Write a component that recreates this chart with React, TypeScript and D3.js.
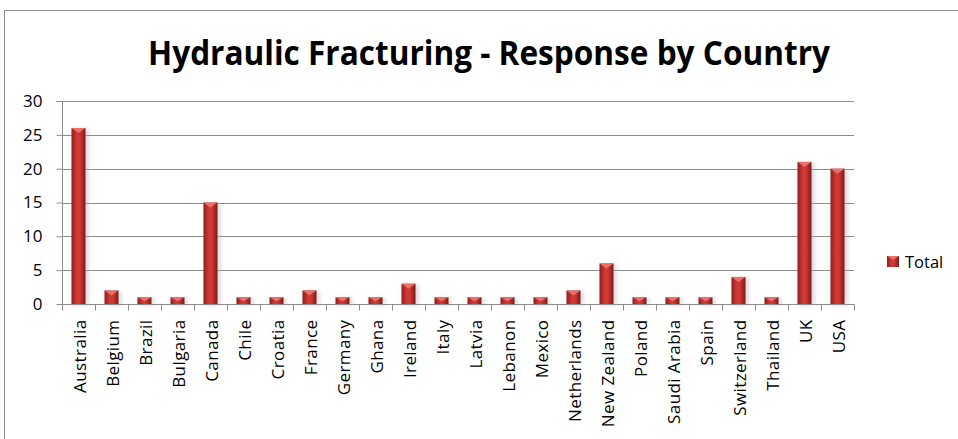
import { useRef, useEffect } from 'react';
import * as d3 from 'd3';

const countries = [
    'Australia', 'Belgium', 'Brazil', 'Bulgaria', 'Canada', 'Chile', 'Croatia', 'France',
    'Germany', 'Ghana', 'Ireland', 'Italy', 'Latvia', 'Lebanon', 'Mexico', 'Netherlands',
    'New Zealand', 'Poland', 'Saudi Arabia', 'Spain', 'Switzerland', 'Thailand', 'UK', 'USA'
];
const totals = [26, 2, 1, 1, 15, 1, 1, 2, 1, 1, 3, 1, 1, 1, 1, 2, 6, 1, 1, 1, 4, 1, 21, 20];
const yTicks = [0, 5, 10, 15, 20, 25, 30];
const title = 'Hydraulic Fracturing - Response by Country';
const seriesName = 'Total';

const W = 958;
const H = 439;

export default function App() {
    const svgRef = useRef<SVGSVGElement | null>(null);

    useEffect(() => {
        if (!svgRef.current) return;
        const svg = d3.select(svgRef.current);
        svg.selectAll('*').remove();

        const left = 62, right = 854, top = 101, bottom = 304;

        const x = d3.scaleBand<string>().domain(countries).range([left, right]);
        const y = d3.scaleLinear().domain([0, 30]).range([bottom, top]);

        const defs = svg.append('defs');
        const grad = defs.append('linearGradient').attr('id', 'barGrad')
            .attr('x1', '0%').attr('x2', '100%').attr('y1', '0%').attr('y2', '0%');
        grad.append('stop').attr('offset', '0%').attr('stop-color', '#8e1f1f');
        grad.append('stop').attr('offset', '40%').attr('stop-color', '#d23a36');
        grad.append('stop').attr('offset', '60%').attr('stop-color', '#cf3733');
        grad.append('stop').attr('offset', '100%').attr('stop-color', '#7e1a1a');

        const blur = defs.append('filter').attr('id', 'shadow')
            .attr('x', '-50%').attr('y', '-50%').attr('width', '200%').attr('height', '200%');
        blur.append('feGaussianBlur').attr('stdDeviation', 2);

        // outer chart border
        svg.append('rect')
            .attr('x', 4.5).attr('y', 10.5)
            .attr('width', W + 10).attr('height', H + 10)
            .attr('fill', '#fff').attr('stroke', '#8c8c8c');

        // title
        svg.append('text')
            .attr('x', 489).attr('y', 65)
            .attr('text-anchor', 'middle')
            .attr('textLength', 682)
            .attr('lengthAdjust', 'spacingAndGlyphs')
            .style('font-family', '"Open Sans", "Noto Sans", sans-serif')
            .style('font-weight', 'bold')
            .style('font-size', '34px')
            .text(title);

        // gridlines
        svg.append('g')
            .selectAll('line')
            .data(yTicks.filter(d => d > 0))
            .join('line')
            .attr('x1', left).attr('x2', right)
            .attr('y1', d => Math.round(y(d)) + 0.5).attr('y2', d => Math.round(y(d)) + 0.5)
            .attr('stroke', '#8c8c8c');

        // y axis
        const yAxis = d3.axisLeft(y).tickValues(yTicks).tickSize(6).tickPadding(14);
        const gy = svg.append('g')
            .attr('transform', `translate(${left + 0.5},0)`)
            .call(yAxis);
        gy.selectAll('path, line').attr('stroke', '#8c8c8c');
        gy.select('.domain').attr('d', `M-6,${top + 0.5}H0V${bottom}`);
        gy.selectAll('text')
            .style('font-family', '"Open Sans", "Noto Sans", sans-serif')
            .style('font-size', '17px')
            .attr('fill', '#000');

        // bars
        const barW = 14;
        const bars = svg.append('g');
        countries.forEach((c, i) => {
            const v = totals[i];
            const bx = x(c)! + x.bandwidth() / 2 - barW / 2;
            const by = y(v);
            bars.append('rect')
                .attr('x', bx + 1).attr('y', by + 1)
                .attr('width', barW + 2).attr('height', bottom - by)
                .attr('fill', '#b0b0b0').attr('opacity', 0.5)
                .attr('filter', 'url(#shadow)');
            bars.append('rect')
                .attr('x', bx).attr('y', by)
                .attr('width', barW).attr('height', bottom - by)
                .attr('fill', 'url(#barGrad)');
            const cap = Math.min(5, (bottom - by) * 0.6);
            bars.append('path')
                .attr('d', `M${bx},${by}L${bx + barW},${by}L${bx + barW / 2},${by + cap}Z`)
                .attr('fill', '#f07a72').attr('opacity', 0.85);
        });

        // x axis
        const gx = svg.append('g').attr('transform', `translate(0,${bottom + 0.5})`);
        gx.append('line')
            .attr('x1', left).attr('x2', right + 0.5)
            .attr('stroke', '#8c8c8c');
        gx.selectAll('line.tick')
            .data(d3.range(countries.length + 1))
            .join('line')
            .attr('class', 'tick')
            .attr('x1', i => Math.round(left + i * x.step()) + 0.5)
            .attr('x2', i => Math.round(left + i * x.step()) + 0.5)
            .attr('y1', 0).attr('y2', 6)
            .attr('stroke', '#8c8c8c');
        gx.selectAll('text')
            .data(countries)
            .join('text')
            .attr('transform', c => `translate(${x(c)! + x.bandwidth() / 2 + 7},${15}) rotate(-90)`)
            .attr('text-anchor', 'end')
            .style('font-family', '"Open Sans", "Noto Sans", sans-serif')
            .style('font-size', '17px')
            .style('letter-spacing', '0.4px')
            .text(c => c);

        // legend
        const lg = svg.append('g').attr('transform', 'translate(887,256)');
        lg.append('rect').attr('width', 12).attr('height', 11).attr('fill', 'url(#barGrad)');
        lg.append('path').attr('d', 'M0,0L12,0L6,4Z').attr('fill', '#f07a72').attr('opacity', 0.85);
        lg.append('text')
            .attr('x', 18).attr('y', 11.5)
            .style('font-family', '"Open Sans", "Noto Sans", sans-serif')
            .style('font-size', '16.5px')
            .text(seriesName);
    }, []);

    return (
        <div style={{ position: 'fixed', left: 0, top: 0, width: W, height: H }}>
            <svg ref={svgRef} width={W} height={H} style={{ display: 'block' }}></svg>
        </div>
    );
}
